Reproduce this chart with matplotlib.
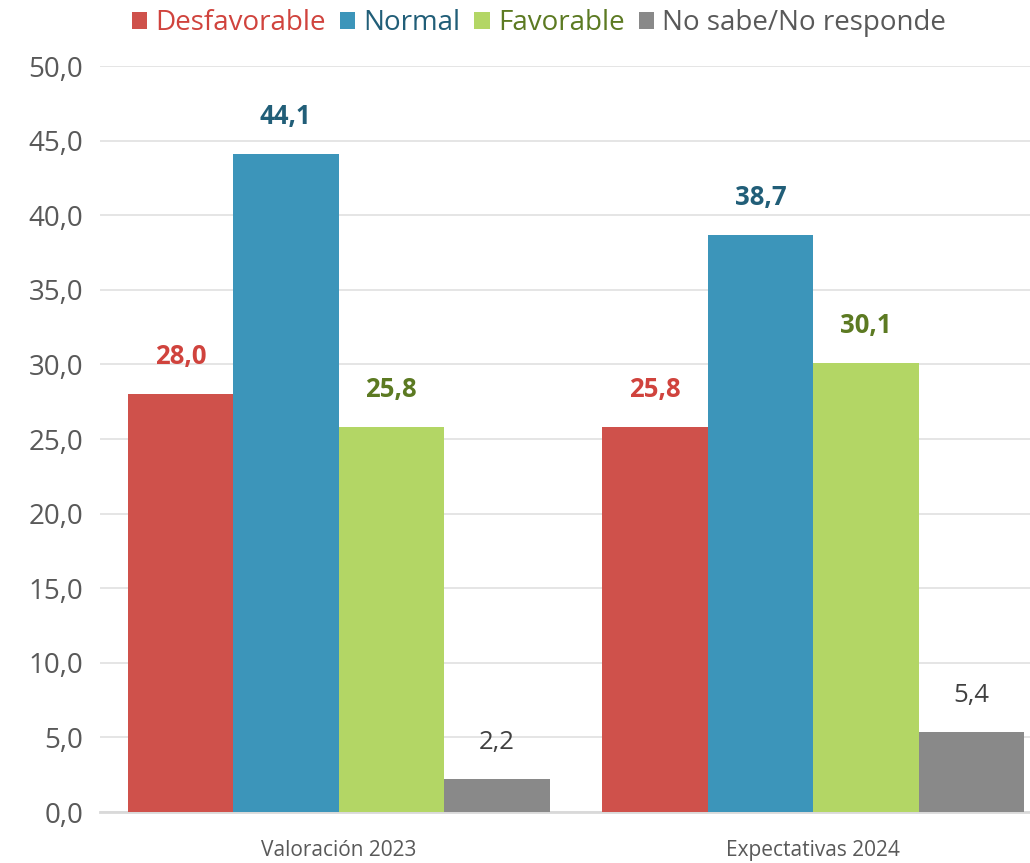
import matplotlib
matplotlib.use("Agg")
from matplotlib import pyplot as plt
import numpy as np

plt.rcParams['font.family'] = ['Open Sans', 'DejaVu Sans']

categories = ["Valoración 2023", "Expectativas 2024"]
series = ["Desfavorable", "Normal", "Favorable", "No sabe/No responde"]
desfavorable = [28.0, 25.8]
normal = [44.1, 38.7]
favorable = [25.8, 30.1]
nsnr = [2.2, 5.4]

bar_colors = ["#CF514B", "#3C95BA", "#B3D665", "#898989"]
text_colors = ["#D0433D", "#215E78", "#5C7A22", "#404040"]
weights = ["bold", "bold", "bold", "normal"]

fig = plt.figure(figsize=(10.3, 8.63), dpi=100)
ax = fig.add_axes([0.097, 0.059, 0.903, 0.8645])

x = np.arange(len(categories))
w = 0.2223
values = [desfavorable, normal, favorable, nsnr]
for i, vals in enumerate(values):
    pos = x + (i - 1.5) * w
    ax.bar(pos, vals, width=w, color=bar_colors[i], label=series[i], zorder=3)
    for p, v in zip(pos, vals):
        ax.text(p, v + 1.6, f"{v:.1f}".replace(".", ","), ha="center", va="bottom",
                fontsize=18.5, color=text_colors[i], fontweight=weights[i])

ax.set_xlim(-0.503, 1.457)
ax.set_ylim(0, 50)
ax.set_yticks(np.arange(0, 51, 5))
ax.set_yticklabels([f"{t:.1f}".replace(".", ",") for t in np.arange(0, 51, 5)],
                   fontsize=20, color="#595959")
ax.set_xticks(x)
ax.set_xticklabels(categories, fontsize=15, color="#595959")
ax.tick_params(axis="both", length=0)
ax.tick_params(axis="y", pad=12)
ax.tick_params(axis="x", pad=20)
ax.grid(axis="y", color="#E3E3E3", linewidth=1.3, zorder=0)
for s in ["top", "right", "left"]:
    ax.spines[s].set_visible(False)
ax.spines["bottom"].set_color("#D9D9D9")
ax.spines["bottom"].set_linewidth(2)

leg = ax.legend(loc="center", bbox_to_anchor=(0.472, 1.057), ncol=4, frameon=False,
                fontsize=20, handlelength=0.55, handleheight=0.55, handletextpad=0.3,
                columnspacing=0.5, borderpad=0)
for t, c in zip(leg.get_texts(), text_colors[:3] + ["#595959"]):
    t.set_color(c)

plt.savefig("out.png", dpi=100)
